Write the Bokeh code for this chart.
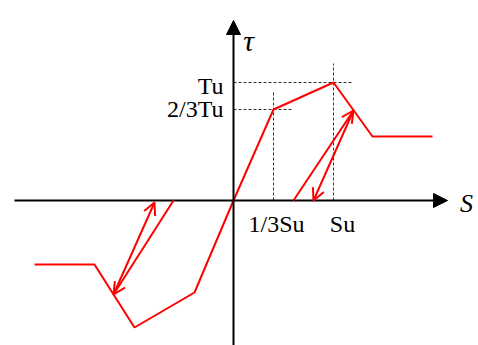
from bokeh.plotting import figure
from bokeh.models import Range1d, Arrow, NormalHead, OpenHead
from bokeh.core.properties import value
from bokeh.embed import file_html
from bokeh.resources import INLINE

# Data (S in units of ~Su, tau in units of ~Tu)
pos_env_s = [0.0, 0.40, 1.00, 1.39, 1.99]
pos_env_t = [0.0, 0.91, 1.18, 0.64, 0.64]
neg_env_s = [0.0, -0.39, -0.99, -1.39, -1.99]
neg_env_t = [0.0, -0.92, -1.27, -0.64, -0.64]

# cyclic arrows: (s0, t0) -> (s1, t1)
arrow_s0 = [0.60, 1.20, -0.60, -1.20]
arrow_t0 = [0.00, 0.90, 0.00, -0.94]
arrow_s1 = [1.20, 0.80, -1.20, -0.79]
arrow_t1 = [0.90, 0.00, -0.94, -0.02]

# dashed guides
dash_xs = [[0.40, 0.40], [0.0, 0.60], [0.0, 1.20], [1.00, 1.00]]
dash_ys = [[0.0, 1.10], [0.91, 0.91], [1.18, 1.18], [0.0, 1.37]]

tick_labels_y = ["Tu", "2/3Tu"]
tick_pos_y = [1.15, 0.92]
tick_labels_x = ["1/3Su", "Su"]
tick_pos_x = [0.43, 1.09]

W, H = 478, 345
OX, OY = 233, 200  # screen position of origin
p = figure(width=W, height=H, output_backend="svg", toolbar_location=None,
           x_range=Range1d((0 - OX) / 100, (W - OX) / 100),
           y_range=Range1d((OY - H) / 100, (OY - 0) / 100),
           min_border=0)
p.axis.visible = False
p.grid.visible = False
p.outline_line_color = None
p.background_fill_color = "white"

# dashed lines
p.multi_line(dash_xs, dash_ys, line_color="#333333", line_width=1, line_dash="3 2")

# axes
p.add_layout(Arrow(end=NormalHead(size=14, fill_color="black", line_color="black"),
                   x_start=-2.19, y_start=0, x_end=2.14, y_end=0,
                   line_color="black", line_width=2))
p.add_layout(Arrow(end=NormalHead(size=14, fill_color="black", line_color="black"),
                   x_start=0, y_start=-1.45, x_end=0, y_end=1.80,
                   line_color="black", line_width=2))

# envelopes
p.line(pos_env_s, pos_env_t, line_color="red", line_width=2)
p.line(neg_env_s, neg_env_t, line_color="red", line_width=2)

for s0, t0, s1, t1 in zip(arrow_s0, arrow_t0, arrow_s1, arrow_t1):
    p.add_layout(Arrow(end=OpenHead(size=12, line_color="red", line_width=2),
                       x_start=s0, y_start=t0, x_end=s1, y_end=t1,
                       line_color="red", line_width=2))

font = value("Liberation Serif")
p.text([-0.10] * 2, tick_pos_y, text=tick_labels_y, text_font=font, text_font_size="24px",
       text_align="right", text_baseline="middle", text_color="black")
p.text(tick_pos_x, [-0.23] * 2, text=tick_labels_x, text_font=font, text_font_size="24px",
       text_align="center", text_baseline="middle", text_color="black")
p.text([0.15], [1.60], text=["τ"], text_font=font, text_font_size="30px",
       text_font_style="italic", text_align="center", text_baseline="middle")
p.text([2.33], [-0.03], text=["S"], text_font=font, text_font_size="26px",
       text_font_style="italic", text_align="center", text_baseline="middle")

open("out.html", "w").write(file_html(p, INLINE))
